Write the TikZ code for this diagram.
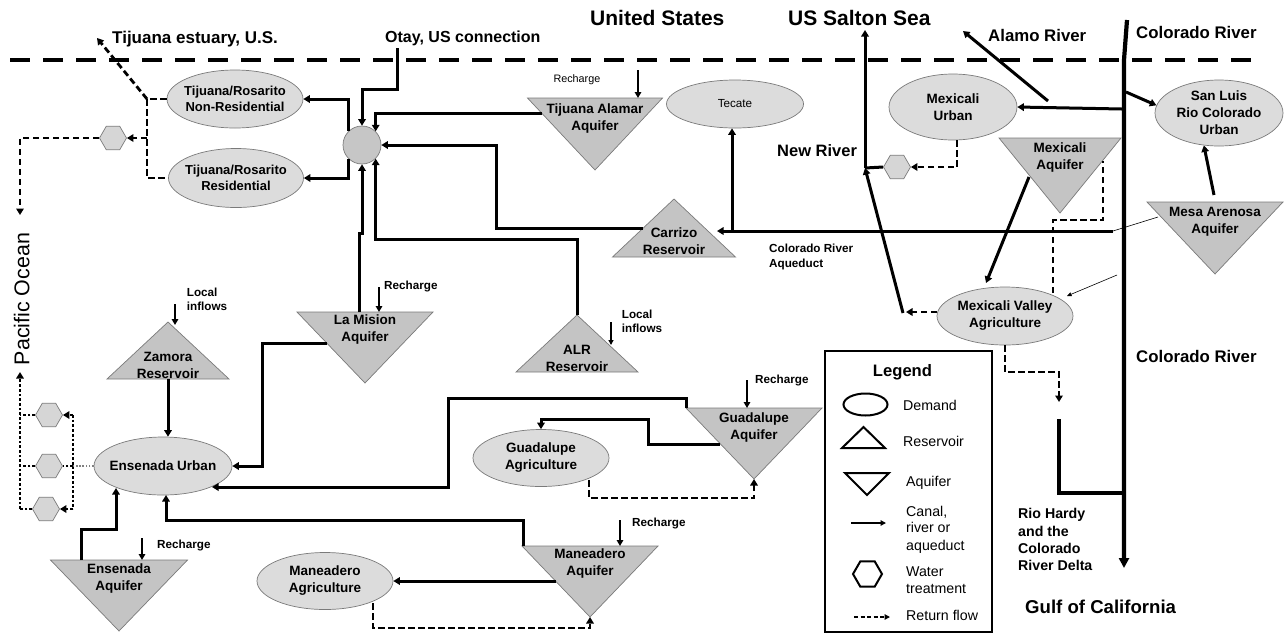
\documentclass[tikz,border=0pt]{standalone}
\usepackage{fontspec}
\setmainfont{Liberation Sans}
\usetikzlibrary{arrows.meta,shapes.geometric}
\definecolor{demfill}{HTML}{DCDCDC}
\definecolor{trifill}{HTML}{C4C4C4}
\definecolor{hubfill}{HTML}{C6C6C6}
\definecolor{hexfill}{HTML}{D6D6D6}
\definecolor{edgegray}{HTML}{7A7A7A}
\tikzset{
  demand/.style={ellipse, draw=edgegray, line width=0.7pt, fill=demfill, inner xsep=-6pt, inner ysep=0pt, align=center, font=\fontsize{13.5}{17}\selectfont\bfseries},
  trishape/.style={draw=edgegray, line width=0.7pt, fill=trifill},
  trilabel/.style={inner sep=0pt, align=center, font=\fontsize{13.5}{17}\selectfont\bfseries},
  hexnode/.style={regular polygon, regular polygon sides=6, minimum size=27pt, inner sep=0pt, draw=edgegray, line width=0.7pt, fill=hexfill},
  tip/.style={-{Triangle[length=6.5pt,width=7.5pt]}},
  conn/.style={line width=3pt},
  flow/.style={conn, tip},
  retn/.style={line width=2.8pt, dash pattern=on 6.5pt off 3.5pt},
  retflow/.style={retn, tip},
  dotl/.style={line width=2.7pt, dash pattern=on 2.7pt off 2pt},
  rech/.style={line width=2.2pt, -{Triangle[length=6pt,width=6.5pt]}},
  thinarrow/.style={line width=1.4pt, -{Triangle[length=5pt,width=5pt]}},
  bigt/.style={inner sep=0pt, anchor=base west, font=\fontsize{21}{25}\selectfont\bfseries},
  midt/.style={inner sep=0pt, anchor=base west, font=\fontsize{16.8}{20}\selectfont\bfseries},
  smt/.style={inner sep=0pt, anchor=base west, font=\fontsize{11.7}{14}\selectfont\bfseries},
  deltat/.style={inner sep=0pt, anchor=base west, font=\fontsize{14.2}{17}\selectfont\bfseries},
  lgt/.style={inner sep=0pt, anchor=base west, font=\fontsize{14.2}{17}\selectfont},
  lgsym/.style={draw=black, line width=2pt, line join=miter},
}
\begin{document}
\begin{tikzpicture}[x=1pt,y=-1pt]
\useasboundingbox (0,0) rectangle (1285,633);

% border
\coordinate (bl) at (10,60);
\coordinate (br) at (1255,60);
\draw[line width=4.2pt, dash pattern=on 20pt off 13pt] (bl) -- (br);

% ---------- demand nodes ----------
\node[demand, minimum width=136pt, minimum height=58pt, font=\fontsize{13}{16.5}\selectfont\bfseries] (nonres) at (235,99) {Tijuana/Rosarito\\Non-Residential};
\node[demand, minimum width=135pt, minimum height=59pt, font=\fontsize{13}{16.5}\selectfont\bfseries] (res) at (236,178) {Tijuana/Rosarito\\Residential};
\node[demand, minimum width=137pt, minimum height=48pt, font=\fontsize{11.7}{14}\selectfont] (tecate) at (735,104) {Tecate};
\node[demand, minimum width=128pt, minimum height=66pt] (mexu) at (953,107) {Mexicali\\Urban};
\node[demand, minimum width=128pt, minimum height=66pt] (sanluis) at (1219,113) {San Luis\\Rio Colorado\\Urban};
\node[demand, minimum width=136pt, minimum height=58pt] (mva) at (1005,316) {Mexicali Valley\\Agriculture};
\node[demand, minimum width=138pt, minimum height=58pt] (ensu) at (163,466) {Ensenada Urban};
\node[demand, minimum width=136pt, minimum height=57pt] (guaag) at (541,458) {Guadalupe\\Agriculture};
\node[demand, minimum width=136pt, minimum height=57pt] (manag) at (325,581) {Maneadero\\Agriculture};

\node[circle, draw=edgegray, fill=hubfill, line width=0.7pt, minimum size=38pt, inner sep=0pt] (hub) at (362,145) {};

% ---------- aquifers ----------
\path[trishape] (527.5,98) coordinate (tja-l) -- (662.5,98) coordinate (tja-r) -- (595,170) coordinate (tja-a) -- cycle;
\node[trilabel] (tja) at (595,118.5) {Tijuana Alamar\\Aquifer};
\path[trishape] (297,312) coordinate (mis-l) -- (433,312) coordinate (mis-r) -- (365,383) coordinate (mis-a) -- cycle;
\node[trilabel] (mis) at (365,329.5) {La Mision\\Aquifer};
\path[trishape] (686,408) coordinate (gua-l) -- (822,408) coordinate (gua-r) -- (754,479) coordinate (gua-a) -- cycle;
\node[trilabel] (gua) at (754,427) {Guadalupe\\Aquifer};
\path[trishape] (522,546) coordinate (man-l) -- (658,546) coordinate (man-r) -- (590,617) coordinate (man-a) -- cycle;
\node[trilabel] (man) at (590,563.5) {Maneadero\\Aquifer};
\path[trishape] (50.5,560) coordinate (ens-l) -- (187.5,560) coordinate (ens-r) -- (119,631) coordinate (ens-a) -- cycle;
\node[trilabel] (ens) at (119,578.5) {Ensenada\\Aquifer};
\path[trishape] (999,138) coordinate (mxa-l) -- (1121,138) coordinate (mxa-r) -- (1060,213) coordinate (mxa-a) -- cycle;
\node[trilabel] (mxa) at (1060,157.5) {Mexicali\\Aquifer};
\path[trishape] (1147,202) coordinate (mes-l) -- (1283,202) coordinate (mes-r) -- (1215,274) coordinate (mes-a) -- cycle;
\node[trilabel] (mes) at (1215,221.5) {Mesa Arenosa\\Aquifer};

% ---------- reservoirs ----------
\path[trishape] (612.5,257) coordinate (car-l) -- (735.5,257) coordinate (car-r) -- (674,199) coordinate (car-a) -- cycle;
\node[trilabel] (car) at (674,241.5) {Carrizo\\Reservoir};
\path[trishape] (516,372) coordinate (alr-l) -- (638,372) coordinate (alr-r) -- (577,315) coordinate (alr-a) -- cycle;
\node[trilabel] (alr) at (577,358.5) {ALR\\Reservoir};
\path[trishape] (107,379) coordinate (zam-l) -- (229,379) coordinate (zam-r) -- (168,322) coordinate (zam-a) -- cycle;
\node[trilabel] (zam) at (168,365) {Zamora\\Reservoir};

% ---------- treatment ----------
\node[hexnode] (hexT) at (113,138) {};
\node[hexnode] (hexM) at (897,167) {};
\node[hexnode] (hexE1) at (49,415) {};
\node[hexnode] (hexE2) at (49,466) {};
\node[hexnode] (hexE3) at (46,509) {};

% ---------- Tijuana connectors ----------
\coordinate (otay) at (397,48);
\draw[flow] (otay) -- (397,89) -| (hub.north);
\draw[flow] (hub.135) |- (nonres.east);
\draw[flow] (hub.-135) |- (res.east);
\coordinate (tja-w) at (542,113);
\draw[flow] (tja-w) -| (hub.45);
\coordinate (car-w) at (643,228);
\draw[flow] (car-w) -- (496,228) |- (hub.east);
\coordinate (mis-n) at (359,312);
\draw[flow] (mis-n) -- (359,233) -- (362,233) -- (hub.south);
\draw[flow] (alr-a) -- (577,239) -| (hub.-45);

% Tijuana return flows
\coordinate (tjj) at (147,99);
\coordinate (tjh) at (147,138);
\coordinate (estuary) at (97,38);
\coordinate (po1) at (20,138);
\coordinate (po1e) at (20,215);
\draw[retn] (nonres.west) -- (tjj) |- (res.west);
\draw[retflow] (tjj) -- (estuary);
\draw[retflow] (tjh) -- (hexT.east);
\draw[retflow] (hexT.west) -- (po1) -- (po1e);

% aqueduct and Tecate
\coordinate (aqend) at (1113,231);
\coordinate (car-e) at (717,231);
\coordinate (tecj) at (732,231);
\draw[flow] (aqend) -- (car-e);
\draw[flow] (tecj) -- (tecj |- tecate.south);

% ---------- Ensenada connectors ----------
\coordinate (mis-w) at (327,343);
\draw[flow] (mis-w) -- (262,343) |- (ensu.east);
\coordinate (zam-b) at (168,379);
\draw[flow] (zam-b) -- (zam-b |- ensu.north);
\coordinate (ensu-g) at (212,487);
\draw[flow] (gua-l) -- (686,398) -- (448,398) |- (ensu-g);
\coordinate (man-n) at (523,546);
\coordinate (ensu-m) at (166,495);
\draw[flow] (man-n) -- (523,520) -| (ensu-m);
\coordinate (ens-n) at (81,560);
\coordinate (ensu-e) at (116,488);
\draw[flow] (ens-n) -- (81,529) -| (ensu-e);

\coordinate (gua-w) at (720,444);
\draw[flow] (gua-w) -- (648,444) -- (648,419) -| (guaag.north);
\coordinate (gag-s) at (589,480);
\draw[retflow] (gag-s) -- (589,498) -| (gua-a);
\coordinate (man-w) at (556,581);
\draw[flow] (man-w) -- (manag.east);
\coordinate (mag-s) at (373,603);
\draw[retflow] (mag-s) -- (373,628) -| (man-a);

% Ensenada treatment (dotted)
\coordinate (ej1) at (73,415);
\coordinate (ej2) at (73,466);
\coordinate (ej3) at (73,509);
\coordinate (po2a) at (20,415);
\coordinate (po2b) at (20,466);
\coordinate (po2c) at (20,509);
\coordinate (po2t) at (20,372);
\draw[line width=1.2pt, draw=gray, dash pattern=on 1.6pt off 1.6pt] (ensu.west) -- (ej2);
\draw[dotl] (ej1) -- (ej3);
\draw[dotl, tip] (ej1) -- (hexE1.east);
\draw[dotl] (ej2) -- (hexE2.east);
\draw[dotl, tip] (ej3) -- (hexE3.east);
\draw[dotl] (hexE1.west) -- (po2a);
\draw[dotl] (hexE2.west) -- (po2b);
\draw[dotl] (hexE3.west) -- (po2c);
\draw[dotl, tip] (po2c) -- (po2t);

% recharge and local inflows
\coordinate (rc1) at (638,70);
\draw[rech] (rc1) -- (rc1 |- tja-l);
\coordinate (rc2) at (379,287);
\draw[rech] (rc2) -- (rc2 |- mis-l);
\coordinate (rc3) at (142,538);
\draw[rech] (rc3) -- (rc3 |- ens-l);
\coordinate (rc4) at (747,380);
\draw[rech] (rc4) -- (rc4 |- gua-l);
\coordinate (rc5) at (620,520);
\draw[rech] (rc5) -- (rc5 |- man-l);
\coordinate (li1) at (175,304);
\coordinate (li1e) at (175,325);
\draw[rech] (li1) -- (li1e);
\coordinate (li2) at (611,322);
\coordinate (li2e) at (611,345);
\draw[thinarrow] (li2) -- (li2e);

% ---------- Mexicali connectors ----------
\coordinate (crtop) at (1127,20);
\coordinate (crb) at (1124,60);
\coordinate (crend) at (1124,568);
\draw[line width=4.2pt, -{Triangle[length=10pt,width=10pt]}] (crtop) -- (crb) -- (crend);
\coordinate (rh1) at (1124,493);
\coordinate (rh2) at (1059,493);
\coordinate (rh3) at (1059,419);
\draw[line width=3.4pt] (rh1) -- (rh2) -- (rh3);

\coordinate (cr-mu) at (1122,109);
\draw[flow] (cr-mu) -- (mexu.east);
\coordinate (al1) at (1048,101);
\coordinate (al2) at (963,31);
\draw[flow] (al1) -- (al2);
\coordinate (cr-sl) at (1126,92);
\draw[flow] (cr-sl) -- (sanluis.173);
\coordinate (mes-n) at (1214,195);
\draw[flow] (mes-n) -- (sanluis.-115);

\coordinate (mxa-s) at (1029,177);
\coordinate (mva-in) at (986,283);
\draw[flow] (mxa-s) -- (mva-in);
\coordinate (mva-n2) at (1053,293);
\coordinate (mxa-e) at (1103,161);
\draw[retn] (mva-n2) -- (1053,220) -| (mxa-e);

\coordinate (mes-w1) at (1158,217);
\draw[line width=0.6pt] (mes-w1) -- (aqend);
\coordinate (thin2a) at (1117,275);
\coordinate (mva-ne) at (1067,296);
\draw[line width=0.6pt, -{Triangle[length=4.5pt,width=4pt]}] (thin2a) -- (mva-ne);

\coordinate (mu-s) at (957,140);
\coordinate (mu-j) at (957,167);
\draw[retflow] (mu-s) -- (mu-j) -- (hexM.east);
\coordinate (nr-b) at (903,313);
\coordinate (nr-j) at (865,168);
\coordinate (nr-t) at (865,30);
\draw[conn] (hexM.west) -- (nr-j);
\draw[flow] (nr-b) -- (nr-j);
\draw[flow] (nr-j) -- (nr-t);
\coordinate (mva-w) at (937,312);
\coordinate (nr-d) at (906,312);
\draw[retflow] (mva-w) -- (nr-d);
\coordinate (rd3) at (1059,402);
\draw[retflow] (mva.south) -- (1005,372) -| (rd3);

% ---------- labels ----------
\node[bigt] (us) at (590,25) {United States};
\node[bigt] (salton) at (788,25) {US Salton Sea};
\node[inner sep=0pt, anchor=base west, font=\fontsize{17}{20}\selectfont\bfseries] (estul) at (112,43.3) {Tijuana estuary, U.S.};
\node[inner sep=0pt, anchor=base west, font=\fontsize{16}{20}\selectfont\bfseries] (otayl) at (385,42) {Otay, US connection};
\node[midt] (alamol) at (988,41.7) {Alamo River};
\node[midt] (colo1) at (1136,38) {Colorado River};
\node[inner sep=0pt, anchor=base west, font=\fontsize{16.5}{20}\selectfont\bfseries] (newr) at (777,156.7) {New River};
\node[smt] (cra1) at (769,252.7) {Colorado River};
\node[smt] (cra2) at (769,267) {Aqueduct};
\node[midt] (colo2) at (1136,362.3) {Colorado River};
\node[deltat] (rhd1) at (1018,518.3) {Rio Hardy};
\node[deltat] (rhd2) at (1018,536) {and the};
\node[deltat] (rhd3) at (1018,553) {Colorado};
\node[deltat] (rhd4) at (1018,570.7) {River Delta};
\node[inner sep=0pt, anchor=base west, font=\fontsize{18.6}{22}\selectfont\bfseries] (gulf) at (1025,613.3) {Gulf of California};
\node[inner sep=0pt, anchor=base, rotate=90, font=\fontsize{21.4}{25}\selectfont] (pacific) at (29.3,299) {Pacific Ocean};
\node[smt] (lz1) at (186.7,296) {Local};
\node[smt] (lz2) at (186.7,310.7) {inflows};
\node[smt] (la1) at (621.7,318.3) {Local};
\node[smt] (la2) at (621.7,332.3) {inflows};
\node[smt] (rmis) at (384,289.3) {Recharge};
\node[smt] (rens) at (157,548.3) {Recharge};
\node[smt] (rgua) at (755,383.3) {Recharge};
\node[smt] (rman) at (632,526.7) {Recharge};
\node[inner sep=0pt, anchor=base west, font=\fontsize{10.8}{13}\selectfont] (rtja) at (553.3,82.7) {Recharge};

% ---------- legend ----------
\node[draw=black, line width=1.5pt, minimum width=167pt, minimum height=281pt, inner sep=0pt] (legendbox) at (908.5,491.5) {};
\node[inner sep=0pt, anchor=base, font=\fontsize{16.6}{20}\selectfont\bfseries] (legendt) at (902.5,376.7) {Legend};
\node[ellipse, lgsym, minimum width=44pt, minimum height=22pt, inner sep=0pt] (lgdem) at (865.5,404.5) {};
\draw[lgsym] (842,448) -- (885,448) -- (863.5,427) -- cycle;
\draw[lgsym] (845,473) -- (889,473) -- (867,495) -- cycle;
\coordinate (lga1) at (851,523);
\coordinate (lga2) at (886,523);
\draw[line width=1.6pt, -{Triangle[length=5.5pt,width=5.5pt]}] (lga1) -- (lga2);
\node[regular polygon, regular polygon sides=6, lgsym, minimum size=29pt, inner sep=0pt] (lghex) at (867.5,574) {};
\coordinate (lgr1) at (854,617);
\coordinate (lgr2) at (890,617);
\draw[line width=1.8pt, dash pattern=on 4pt off 2.5pt, -{Triangle[length=5.5pt,width=5.5pt]}] (lgr1) -- (lgr2);
\node[lgt] (lgt1) at (903,410.7) {Demand};
\node[lgt] (lgt2) at (903,446.7) {Reservoir};
\node[lgt] (lgt3) at (906,486.7) {Aquifer};
\node[lgt] (lgt4) at (906,516) {Canal,};
\node[lgt] (lgt5) at (906,532.3) {river or};
\node[lgt] (lgt6) at (906,550) {aqueduct};
\node[lgt] (lgt7) at (906,576.7) {Water};
\node[lgt] (lgt8) at (906,593.3) {treatment};
\node[lgt] (lgt9) at (906,620) {Return flow};
\end{tikzpicture}
\end{document}
